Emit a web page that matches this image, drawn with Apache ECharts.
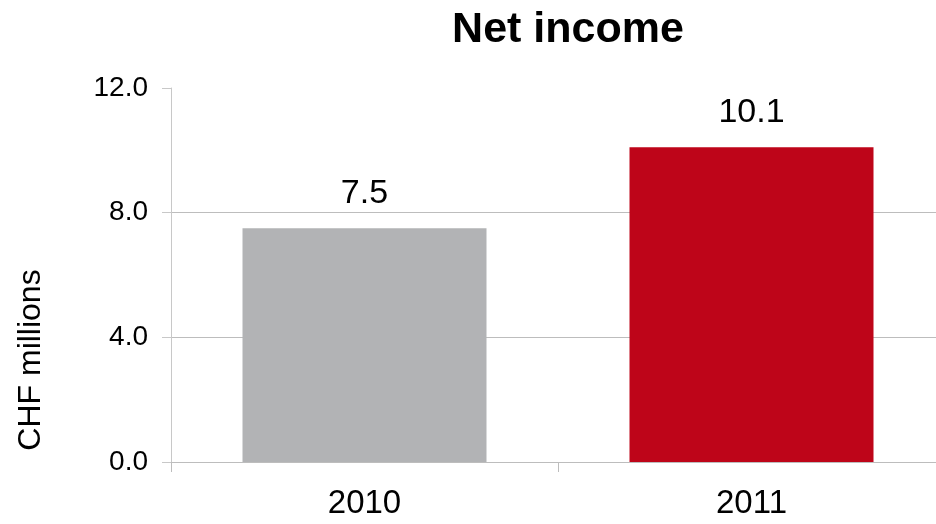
<!DOCTYPE html>
<html>
<head>
<meta charset="utf-8">
<script src="https://cdn.jsdelivr.net/npm/echarts@6/dist/echarts.min.js"></script>
<style>
  html, body { margin: 0; padding: 0; background: #fff; overflow: hidden; }
  #wrap { width: 936px; height: 524px; overflow: hidden; }
  /* the plot area runs slightly past the right edge of the view */
  #chart { width: 960px; height: 524px; }
</style>
</head>
<body>
<div id="wrap"><div id="chart"></div></div>
<script>
// Net income by year, CHF millions
const years = ['2010', '2011'];
const netIncome = [7.5, 10.1];
const barColors = ['#B2B3B5', '#BE0519'];
const yTicks = [0, 4, 8, 12];

const FONT = '"Liberation Sans", Arial, sans-serif';
const chart = echarts.init(document.getElementById('chart'));

chart.setOption({
  animation: false,
  backgroundColor: '#ffffff',
  title: {
    text: 'Net income',
    left: 563,
    top: 4,
    textAlign: 'center',
    textStyle: { fontFamily: FONT, fontSize: 43, fontWeight: 'bold', color: '#000' }
  },
  grid: { left: 171, top: 88, bottom: 62, width: 774 },
  xAxis: {
    type: 'category',
    data: years,
    axisLine: { lineStyle: { color: '#bdbdbd', width: 1 } },
    axisTick: { show: true, length: 10, lineStyle: { color: '#bdbdbd' } },
    axisLabel: { margin: 25, fontFamily: FONT, fontSize: 33, color: '#000' }
  },
  yAxis: {
    type: 'value',
    min: yTicks[0],
    max: yTicks[yTicks.length - 1],
    interval: yTicks[1] - yTicks[0],
    axisLine: { show: true, lineStyle: { color: '#c8c8c8', width: 1 } },
    axisTick: { show: true, length: 9, lineStyle: { color: '#c8c8c8' } },
    axisLabel: {
      margin: 23,
      fontFamily: FONT,
      fontSize: 28,
      color: '#000',
      formatter: v => v.toFixed(1)
    },
    splitLine: { show: true, showMaxLine: false, lineStyle: { color: '#bdbdbd', width: 1 } }
  },
  graphic: [{
    type: 'text',
    x: 31,
    y: 360,
    rotation: Math.PI / 2,
    style: {
      text: 'CHF millions',
      fontFamily: FONT,
      fontSize: 32,
      fill: '#000',
      align: 'center',
      verticalAlign: 'middle'
    }
  }],
  series: [{
    type: 'bar',
    barWidth: 244,
    data: netIncome.map((v, i) => ({ value: v, itemStyle: { color: barColors[i] } })),
    label: {
      show: true,
      position: 'top',
      distance: 18,
      fontFamily: FONT,
      fontSize: 34,
      color: '#000',
      formatter: p => p.value.toFixed(1)
    }
  }]
});
</script>
</body>
</html>
